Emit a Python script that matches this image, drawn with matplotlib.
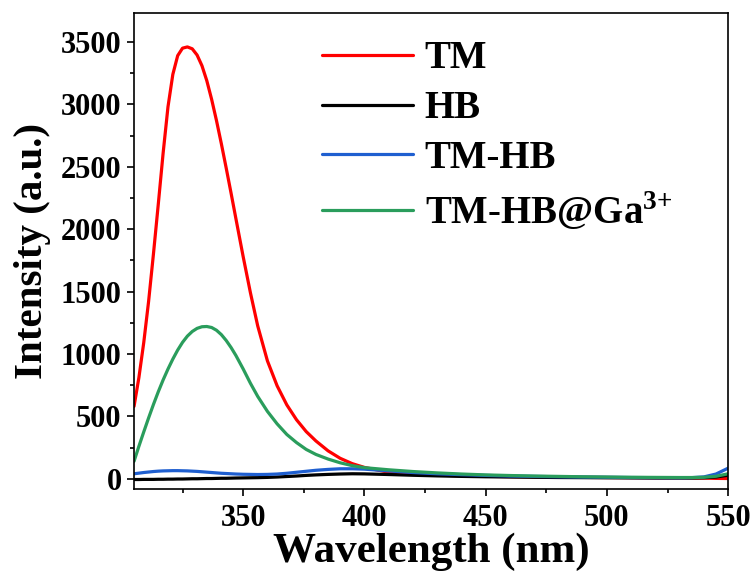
import matplotlib
matplotlib.use('Agg')
import matplotlib.pyplot as plt
from matplotlib.ticker import MultipleLocator

# wavelength grid (nm) and emission intensities
wavelength = [305, 307, 309, 311, 313, 315, 317, 319, 321, 323, 325, 327, 329, 331, 333, 335,
              337, 339, 341, 343, 345, 347, 350, 353, 356, 360, 364, 368, 372, 376, 380, 385,
              390, 395, 400, 410, 420, 430, 440, 450, 460, 470, 480, 490, 500, 510, 520, 530,
              535, 540, 545, 550]

tm = [580, 810, 1090, 1420, 1800, 2200, 2610, 2980, 3240, 3390, 3450, 3460, 3445, 3395, 3310, 3190,
      3040, 2870, 2685, 2490, 2290, 2085, 1780, 1490, 1225, 945, 745, 592, 473, 378, 303, 224,
      164, 121, 91, 52, 36, 29, 24, 20, 17, 15, 13, 11, 10, 9, 8, 7,
      6, 5, 3, 2]

hb = [-6, -6, -5, -5, -5, -4, -4, -3, -3, -2, -2, -1, 0, 0, 1, 2,
      2, 3, 4, 4, 5, 6, 7, 8, 9, 11, 14, 18, 22, 27, 31, 35,
      38, 40, 39, 34, 28, 23, 19, 16, 14, 12, 10, 9, 8, 7, 6, 6,
      6, 8, 14, 28]

tm_hb = [40, 45, 50, 54, 58, 61, 63, 64, 65, 65, 64, 63, 61, 59, 56, 53,
         50, 47, 44, 42, 40, 38, 36, 35, 34, 35, 38, 44, 52, 60, 68, 75,
         80, 80, 77, 63, 50, 40, 33, 27, 22, 19, 16, 14, 12, 10, 9, 8,
         9, 15, 38, 85]

tm_hb_ga = [140, 260, 375, 487, 595, 697, 792, 879, 959, 1031, 1093, 1143, 1180, 1205, 1218, 1220,
            1212, 1190, 1155, 1108, 1052, 988, 880, 765, 660, 540, 440, 355, 290, 235, 195, 158,
            128, 105, 89, 72, 58, 47, 38, 31, 26, 22, 19, 16, 14, 12, 11, 10,
            10, 12, 20, 40]

labels = ['TM', 'HB', 'TM-HB', r'TM-HB@Ga$^{\mathbf{3{+}}}$']
colors = ['#ff0000', '#000000', '#1f5fd0', '#2a9d5c']

plt.rcParams['font.family'] = 'Liberation Serif'
plt.rcParams['font.weight'] = 'bold'
plt.rcParams['mathtext.fontset'] = 'custom'
plt.rcParams['mathtext.rm'] = 'Liberation Serif:bold'
plt.rcParams['mathtext.bf'] = 'Liberation Serif:bold'

fig = plt.figure(figsize=(7.53, 5.75), dpi=100)
ax = fig.add_axes([0.178, 0.150, 0.789, 0.827])

for y, lab, c in zip([tm, hb, tm_hb, tm_hb_ga], labels, colors):
    ax.plot(wavelength, y, color=c, lw=2.3, label=lab,
            solid_joinstyle='round', solid_capstyle='round')

ax.set_xlim(305, 550)
ax.set_ylim(-80, 3730)
ax.xaxis.set_major_locator(MultipleLocator(50))
ax.xaxis.set_minor_locator(MultipleLocator(25))
ax.yaxis.set_major_locator(MultipleLocator(500))
ax.yaxis.set_minor_locator(MultipleLocator(250))
ax.tick_params(which='major', length=5, width=1.2, labelsize=22, pad=4)
ax.tick_params(axis='x', which='major', pad=6)
ax.tick_params(which='minor', length=3, width=1.2)
for s in ax.spines.values():
    s.set_linewidth(1.2)

ax.set_xlabel('Wavelength (nm)', fontsize=31, fontweight='bold', labelpad=0)
ax.set_ylabel('Intensity (a.u.)', fontsize=29.5, fontweight='bold', labelpad=7)

ax.legend(loc='upper left', bbox_to_anchor=(0.317, 0.943), frameon=False, fontsize=28,
          handlelength=2.33, handletextpad=0.3, labelspacing=0.33, borderpad=0, borderaxespad=0)

fig.savefig('out.png', dpi=100)
